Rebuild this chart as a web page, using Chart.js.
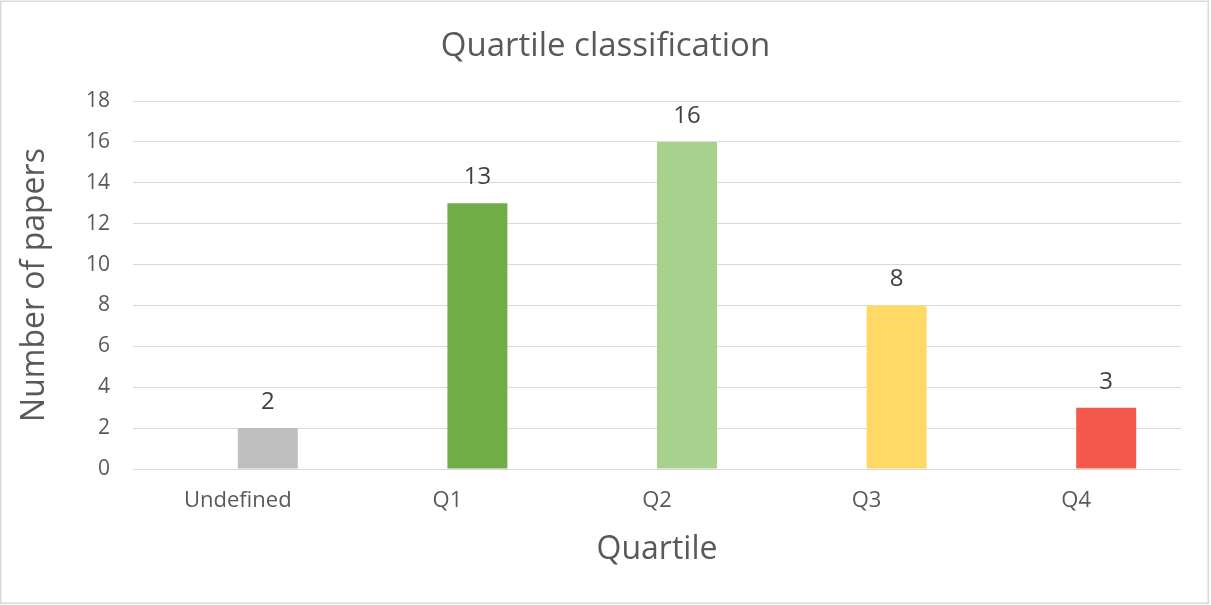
<!DOCTYPE html>
<html>
<head>
<meta charset="utf-8">
<script src="https://cdn.jsdelivr.net/npm/chart.js@4/dist/chart.umd.min.js"></script>
<style>
  html, body { margin: 0; padding: 0; background: #fff; }
  #wrap { width: 1211px; height: 605px; position: relative; }
</style>
</head>
<body>
<div id="wrap"><canvas id="c" width="1211" height="605"></canvas></div>
<script>
const chartTitle = "Quartile classification";
const categories = ["Undefined", "Q1", "Q2", "Q3", "Q4"];
const paperCounts = [2, 13, 16, 8, 3];
// empty companion series (the original chart reserves an unused slot left of each bar)
const emptySeries = [null, null, null, null, null];
const barColors = ["#BFBFBF", "#70AD47", "#A9D18E", "#FFD966", "#F4594E"];
const yTicks = [0, 2, 4, 6, 8, 10, 12, 14, 16, 18];

const FONT = "'Open Sans', 'Liberation Sans', sans-serif";

const valueLabels = {
  id: 'valueLabels',
  afterDatasetsDraw(chart) {
    const ctx = chart.ctx;
    const meta = chart.getDatasetMeta(1);
    ctx.save();
    ctx.font = "24px " + FONT;
    ctx.fillStyle = "#404040";
    ctx.textAlign = "center";
    ctx.textBaseline = "middle";
    meta.data.forEach((bar, i) => {
      ctx.fillText(String(chart.data.datasets[1].data[i]), bar.x, bar.y - 26);
    });
    ctx.restore();
  }
};

const frame = {
  id: 'frame',
  beforeDraw(chart) {
    const ctx = chart.ctx;
    ctx.save();
    ctx.fillStyle = "#fff";
    ctx.fillRect(0, 0, chart.width, chart.height);
    ctx.strokeStyle = "#D9D9D9";
    ctx.lineWidth = 1.5;
    ctx.strokeRect(0.75, 1.25, 1207.5, 602);
    ctx.restore();
  },
  afterDraw(chart) {
    const ctx = chart.ctx;
    ctx.save();
    ctx.font = "33px " + FONT;
    ctx.fillStyle = "#595959";
    ctx.textAlign = "center";
    ctx.textBaseline = "middle";
    ctx.fillText(chartTitle, chart.width / 2, 47);
    ctx.restore();
  }
};

new Chart(document.getElementById('c'), {
  type: 'bar',
  data: {
    labels: categories,
    datasets: [
      {
        data: emptySeries,
        backgroundColor: "rgba(0,0,0,0)",
        borderWidth: 0,
        barPercentage: 1.0,
        categoryPercentage: 0.5725
      },
      {
        data: paperCounts,
        backgroundColor: barColors,
        borderWidth: 0,
        barPercentage: 1.0,
        categoryPercentage: 0.5725
      }
    ]
  },
  options: {
    responsive: false,
    animation: false,
    events: [],
    layout: { padding: { left: 0, right: 30, top: 101, bottom: 0 } },
    plugins: {
      legend: { display: false },
      tooltip: { enabled: false },
      title: { display: false }
    },
    scales: {
      x: {
        grid: { display: false, drawTicks: false },
        border: { display: false },
        ticks: { color: "#595959", font: { family: FONT, size: 22 }, padding: 19, maxRotation: 0 },
        title: {
          display: true, text: "Quartile", color: "#595959",
          font: { family: FONT, size: 32 }, padding: { top: 0, bottom: 36 }
        },
        afterFit(scale) { scale.height = 136; }
      },
      y: {
        min: 0, max: 18,
        afterBuildTicks(scale) { scale.ticks = yTicks.map(v => ({ value: v })); },
        grid: { color: "#D9D9D9", lineWidth: 1, drawTicks: false },
        border: { display: false },
        ticks: { color: "#595959", font: { family: FONT, size: 21 }, padding: 23 },
        title: {
          display: true, text: "Number of papers", color: "#595959",
          font: { family: FONT, size: 32 }, padding: { top: 16, bottom: 0 }
        },
        afterFit(scale) { scale.width = 133; }
      }
    }
  },
  plugins: [frame, valueLabels]
});
</script>
</body>
</html>
